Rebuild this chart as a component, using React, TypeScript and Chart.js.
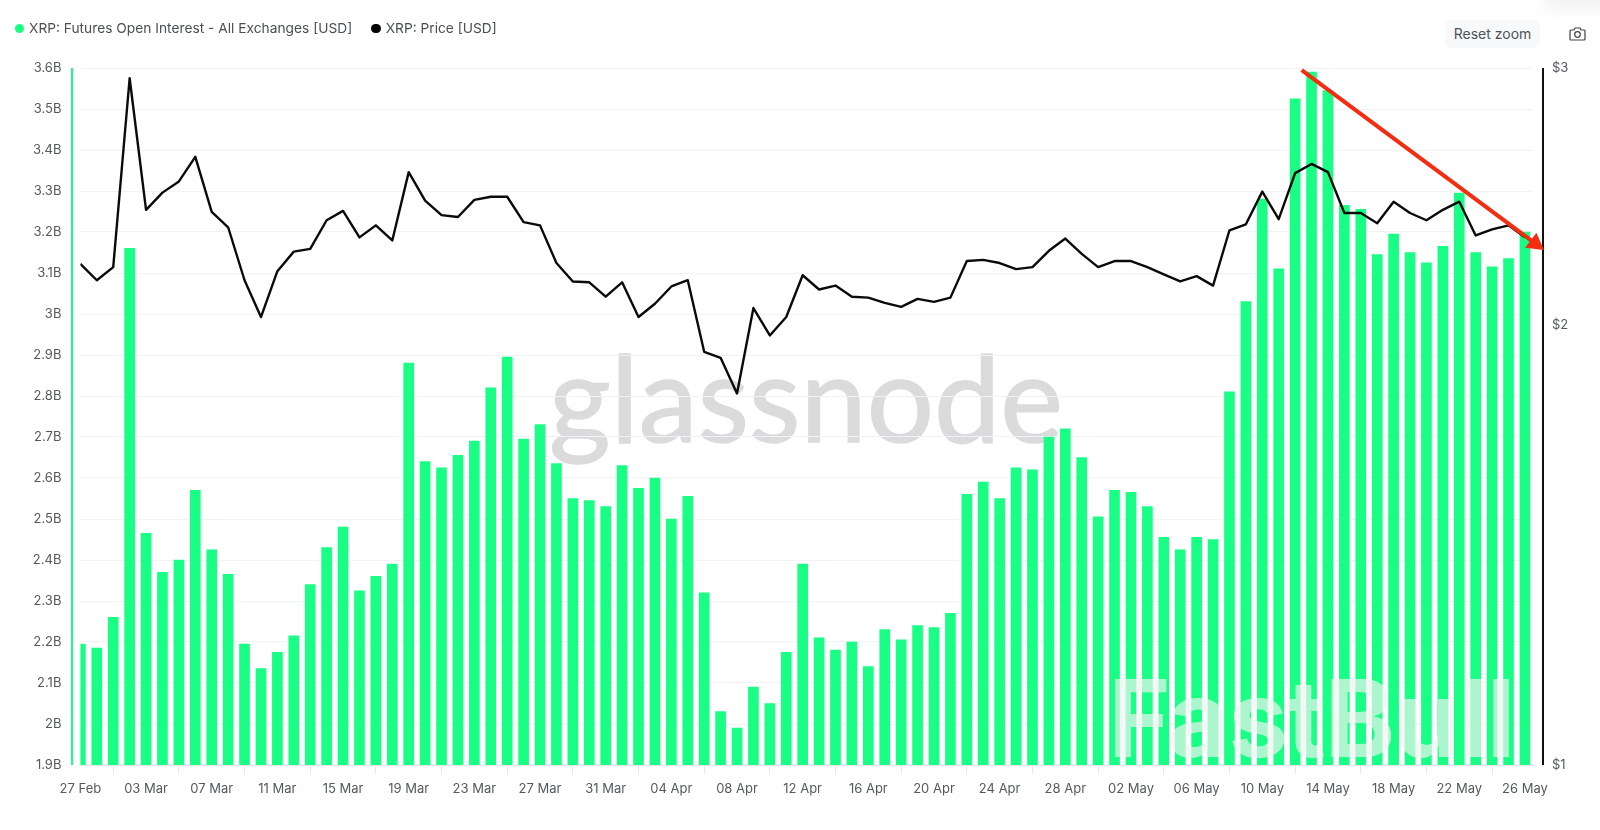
import { useEffect, useRef } from 'react'
import { Chart, registerables } from 'chart.js'
import type { Plugin } from 'chart.js'

Chart.register(...registerables)

const FONT = 'Inter, "Noto Sans", sans-serif'
const TEXT = '#55595f'
const GREEN = '#19ff85'

const dates = [
  '27 Feb', '28 Feb',
  '01 Mar', '02 Mar', '03 Mar', '04 Mar', '05 Mar', '06 Mar', '07 Mar', '08 Mar', '09 Mar', '10 Mar',
  '11 Mar', '12 Mar', '13 Mar', '14 Mar', '15 Mar', '16 Mar', '17 Mar', '18 Mar', '19 Mar', '20 Mar',
  '21 Mar', '22 Mar', '23 Mar', '24 Mar', '25 Mar', '26 Mar', '27 Mar', '28 Mar', '29 Mar', '30 Mar', '31 Mar',
  '01 Apr', '02 Apr', '03 Apr', '04 Apr', '05 Apr', '06 Apr', '07 Apr', '08 Apr', '09 Apr', '10 Apr',
  '11 Apr', '12 Apr', '13 Apr', '14 Apr', '15 Apr', '16 Apr', '17 Apr', '18 Apr', '19 Apr', '20 Apr',
  '21 Apr', '22 Apr', '23 Apr', '24 Apr', '25 Apr', '26 Apr', '27 Apr', '28 Apr', '29 Apr', '30 Apr',
  '01 May', '02 May', '03 May', '04 May', '05 May', '06 May', '07 May', '08 May', '09 May', '10 May',
  '11 May', '12 May', '13 May', '14 May', '15 May', '16 May', '17 May', '18 May', '19 May', '20 May',
  '21 May', '22 May', '23 May', '24 May', '25 May', '26 May',
]

// open interest in billions of USD
const openInterest = [
  2.195, 2.185, 2.26, 3.16, 2.465, 2.37, 2.4, 2.57, 2.425, 2.365, 2.195, 2.135,
  2.175, 2.215, 2.34, 2.43, 2.48, 2.325, 2.36, 2.39, 2.88, 2.64, 2.625, 2.655,
  2.69, 2.82, 2.895, 2.695, 2.73, 2.635, 2.55, 2.545, 2.53, 2.63, 2.575, 2.6,
  2.5, 2.555, 2.32, 2.03, 1.99, 2.09, 2.05, 2.175, 2.39, 2.21, 2.18, 2.2,
  2.14, 2.23, 2.205, 2.24, 2.235, 2.27, 2.56, 2.59, 2.55, 2.625, 2.62, 2.7,
  2.72, 2.65, 2.505, 2.57, 2.565, 2.53, 2.455, 2.425, 2.455, 2.45, 2.81, 3.03,
  3.28, 3.11, 3.525, 3.59, 3.545, 3.265, 3.255, 3.145, 3.195, 3.15, 3.125, 3.165,
  3.295, 3.15, 3.115, 3.135, 3.2,
]

const price = [
  2.203, 2.147, 2.192, 2.952, 2.399, 2.465, 2.509, 2.608, 2.391, 2.334, 2.147, 2.026,
  2.178, 2.246, 2.256, 2.36, 2.395, 2.297, 2.341, 2.286, 2.546, 2.434, 2.379, 2.372,
  2.437, 2.449, 2.449, 2.353, 2.341, 2.206, 2.143, 2.14, 2.092, 2.14, 2.026, 2.069,
  2.126, 2.147, 1.918, 1.9, 1.796, 2.055, 1.968, 2.026, 2.164, 2.116, 2.129, 2.092,
  2.089, 2.072, 2.059, 2.085, 2.075, 2.089, 2.213, 2.217, 2.206, 2.185, 2.192, 2.249,
  2.293, 2.238, 2.192, 2.213, 2.213, 2.192, 2.167, 2.143, 2.161, 2.129, 2.323, 2.345,
  2.469, 2.364, 2.542, 2.579, 2.546, 2.387, 2.387, 2.349, 2.43, 2.387, 2.36, 2.399,
  2.43, 2.304, 2.326, 2.341, 2.297,
]

const priceTicks = [1, 2, 3]

// hand drawn arrow, [day index, open interest]
const arrowFrom = [74.4, 3.595]
const arrowTo = [89.16, 3.156]

const framePlugin: Plugin<'bar'> = {
  id: 'frame',
  beforeDraw(chart) {
    const { ctx } = chart
    ctx.save()
    ctx.font = `400 121px Lato, ${FONT}`
    ctx.fillStyle = '#dbdbdb'
    ctx.strokeStyle = '#dbdbdb'
    ctx.lineWidth = 1.5
    ctx.textAlign = 'center'
    ctx.textBaseline = 'alphabetic'
    ctx.fillText('glassnode', 806, 442, 514)
    ctx.strokeText('glassnode', 806, 442, 514)
    ctx.restore()
  },
  beforeDatasetsDraw(chart) {
    const { ctx, chartArea: { left, right, top, bottom } } = chart
    ctx.save()
    ctx.lineWidth = 2
    ctx.strokeStyle = GREEN
    ctx.beginPath()
    ctx.moveTo(left - 8.4, top)
    ctx.lineTo(left - 8.4, bottom)
    ctx.stroke()
    ctx.strokeStyle = '#111111'
    ctx.beginPath()
    ctx.moveTo(right + 11, top)
    ctx.lineTo(right + 11, bottom)
    ctx.stroke()
    ctx.restore()
  },
  afterDatasetsDraw(chart) {
    const { ctx } = chart
    const { x, y } = chart.scales
    ctx.save()
    ctx.font = `700 107px ${FONT}`
    ctx.letterSpacing = '-1.5px'
    ctx.fillStyle = 'rgba(240,242,241,0.68)'
    ctx.textAlign = 'center'
    ctx.textBaseline = 'alphabetic'
    ctx.fillText('FastBull', 1311, 757)
    ctx.letterSpacing = '0px'

    const x0 = x.getPixelForValue(arrowFrom[0])
    const y0 = y.getPixelForValue(arrowFrom[1])
    const x1 = x.getPixelForValue(arrowTo[0])
    const y1 = y.getPixelForValue(arrowTo[1])
    const a = Math.atan2(y1 - y0, x1 - x0)
    const head = 19
    ctx.strokeStyle = '#f42c10'
    ctx.fillStyle = '#f42c10'
    ctx.lineWidth = 4
    ctx.beginPath()
    ctx.moveTo(x0, y0)
    ctx.lineTo(x1 - Math.cos(a) * head * 0.8, y1 - Math.sin(a) * head * 0.8)
    ctx.stroke()
    ctx.beginPath()
    ctx.moveTo(x1, y1)
    ctx.lineTo(x1 - head * Math.cos(a - 0.52), y1 - head * Math.sin(a - 0.52))
    ctx.lineTo(x1 - head * Math.cos(a + 0.52), y1 - head * Math.sin(a + 0.52))
    ctx.closePath()
    ctx.fill()
    ctx.restore()
  },
}

function LegendItem({ color, label }: { color: string; label: string }) {
  return (
    <span style={{ display: 'inline-flex', alignItems: 'center', marginRight: 19 }}>
      <span style={{ width: 9.5, height: 9.5, borderRadius: '50%', background: color, marginRight: 5 }} />
      {label}
    </span>
  )
}

export default function App() {
  const ref = useRef<HTMLCanvasElement>(null)

  useEffect(() => {
    document.body.style.margin = '0'
    if (!ref.current) return
    const chart = new Chart(ref.current, {
      type: 'bar',
      plugins: [framePlugin],
      data: {
        datasets: [
          {
            type: 'line',
            label: 'XRP: Price [USD]',
            data: price.map((v, i) => ({ x: i, y: v })),
            yAxisID: 'y2',
            borderColor: '#0a0a0a',
            borderWidth: 2.4,
            borderJoinStyle: 'round',
            pointRadius: 0,
            tension: 0,
            order: 0,
          },
          {
            type: 'bar',
            label: 'XRP: Futures Open Interest - All Exchanges [USD]',
            data: openInterest.map((v, i) => ({ x: i, y: v })),
            yAxisID: 'y',
            backgroundColor: GREEN,
            barThickness: 10,
            order: 1,
          },
        ],
      },
      options: {
        responsive: false,
        animation: false,
        layout: { padding: { top: 68 } },
        plugins: { legend: { display: false }, tooltip: { enabled: false } },
        scales: {
          x: {
            type: 'linear',
            offset: false,
            min: 0,
            max: 88.43, // axis runs a little past the last day, so the last bar is whole and the first is cut
            afterBuildTicks: (s) => { s.ticks = dates.map((_, value) => ({ value })).filter((t) => t.value % 4 === 0) },
            afterFit: (s) => { s.height = 65 },
            grid: { drawOnChartArea: false, tickLength: 9, color: '#e6e8eb' },
            border: { color: '#e6e8eb' },
            ticks: {
              autoSkip: false,
              maxRotation: 0,
              padding: 7,
              color: TEXT,
              font: { family: FONT, size: 13 },
              callback: (v) => dates[Number(v)],
            },
          },
          y: {
            position: 'left',
            min: 1.9,
            max: 3.6,
            afterFit: (s) => { s.width = 80.4 },
            grid: { drawTicks: false, color: '#f1f2f4' },
            border: { display: false },
            ticks: {
              stepSize: 0.1,
              padding: 19,
              color: TEXT,
              font: { family: FONT, size: 13 },
              callback: (v) => `${+Number(v).toFixed(1)}B`,
            },
          },
          y2: {
            type: 'logarithmic',
            position: 'right',
            min: 1,
            max: 3,
            afterBuildTicks: (s) => { s.ticks = priceTicks.map((value) => ({ value })) },
            afterFit: (s) => { s.width = 68 },
            grid: { display: false, drawTicks: false },
            border: { display: false },
            ticks: {
              padding: 20,
              color: TEXT,
              font: { family: FONT, size: 13 },
              callback: (v) => `$${v}`,
            },
          },
        },
      },
    })
    return () => chart.destroy()
  }, [])

  return (
    <div style={{ position: 'absolute', left: 0, top: 0, width: 1600, height: 830, background: '#fff', fontFamily: FONT, overflow: 'hidden' }}>
      <canvas ref={ref} width={1600} height={830} style={{ display: 'block' }} />
      <div style={{ position: 'absolute', left: 14.5, top: 19, fontSize: 13.75, lineHeight: '18px', color: '#4b4f55', whiteSpace: 'nowrap' }}>
        <LegendItem color={GREEN} label="XRP: Futures Open Interest - All Exchanges [USD]" />
        <LegendItem color="#000000" label="XRP: Price [USD]" />
      </div>
      <div style={{ position: 'absolute', left: 1545, top: -12, width: 70, height: 22, background: '#f3f3f3', filter: 'blur(7px)' }} />
      <div style={{ position: 'absolute', left: 1445, top: 20, width: 95, height: 28, borderRadius: 6, background: '#f8f9fb', color: '#4e5258', fontSize: 14, lineHeight: '28px', textAlign: 'center' }}>
        Reset zoom
      </div>
      <svg style={{ position: 'absolute', left: 1568.5, top: 27 }} width="17" height="14" viewBox="0 0 17 14" fill="none" stroke="#3c4045" strokeWidth="1.2">
        <path d="M1 4a1 1 0 0 1 1-1h3l1-2h5l1 2h3a1 1 0 0 1 1 1v8a1 1 0 0 1-1 1H2a1 1 0 0 1-1-1z" />
        <circle cx="8.5" cy="7.5" r="2.8" />
      </svg>
    </div>
  )
}
